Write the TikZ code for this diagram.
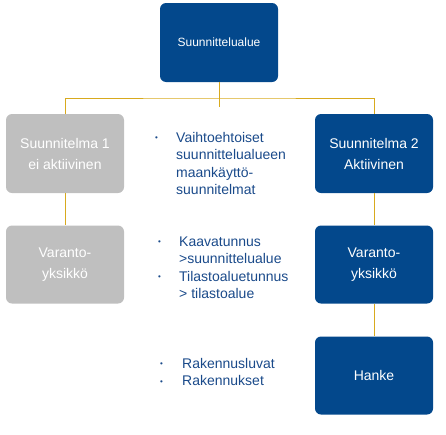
\documentclass[tikz,border=0pt]{standalone}
\usepackage{fontspec}
\setmainfont{Liberation Sans}
\usetikzlibrary{positioning}
\definecolor{boxblue}{HTML}{03488C}
\definecolor{boxgray}{HTML}{BFBFBF}
\definecolor{linkgold}{HTML}{D8AA1E}
\definecolor{noteblue}{HTML}{1A4A8A}
\tikzset{
  unit/.style={rectangle, rounded corners=6pt, inner sep=0pt, minimum width=118pt,
    minimum height=78pt, align=center, text=white, font=\fontsize{14}{21}\selectfont},
  active/.style={unit, fill=boxblue},
  inactive/.style={unit, fill=boxgray},
  link/.style={draw=linkgold, line width=0.9pt},
  note/.style={anchor=base west, inner sep=0pt, text=noteblue, font=\fontsize{14}{17.5}\selectfont}
}
\newcommand{\bul}{{\fontsize{8}{8}\selectfont\raisebox{1.5pt}{•}}}

\begin{document}
\begin{tikzpicture}[x=1pt, y=-1pt]
    \useasboundingbox (0,0) rectangle (446,434);

    \node[active] (area) at (219,42.5) [minimum height=79pt, font=\fontsize{12}{14}\selectfont] {Suunnittelualue};
    \node[inactive] (plan1) at (65,153.5) [minimum height=79pt] {Suunnitelma 1\\ei aktiivinen};
    \node[active] (plan2) at (374,153.5) [minimum height=79pt] {Suunnitelma 2\\Aktiivinen};
    \node[inactive] (res1) at (65,264.5) {Varanto-\\yksikkö};
    \node[active] (res2) at (374,264.5) {Varanto-\\yksikkö};
    \node[active] (project) at (374,375.5) {Hanke};

    % notes in the middle
    \node[note] (note1) at (155,142) {\begin{tabular}[t]{@{}p{21pt}@{}l@{}}
      \bul & Vaihtoehtoiset\\ & suunnittelualueen\\ & maankäyttö-\\ & suunnitelmat
    \end{tabular}};
    \node[note] (note2) at (158,246) {\begin{tabular}[t]{@{}p{21pt}@{}l@{}}
      \bul & Kaavatunnus\\ & >suunnittelualue\\ \bul & Tilastoaluetunnus\\ & > tilastoalue
    \end{tabular}};
    \node[note] (note3) at (160,368) {\begin{tabular}[t]{@{}p{22pt}@{}l@{}}
      \bul & Rakennusluvat\\ \bul & Rakennukset
    \end{tabular}};

    \coordinate (split) at (219,98);
    \coordinate (stub) at (219,107);

    \draw[link] (area) -- (stub);
    \draw[link] (plan1) |- (split) -| (plan2);
    \draw[link] (plan1) -- (res1);
    \draw[link] (plan2) -- (res2);
    \draw[link] (res2) -- (project);
\end{tikzpicture}
\end{document}
